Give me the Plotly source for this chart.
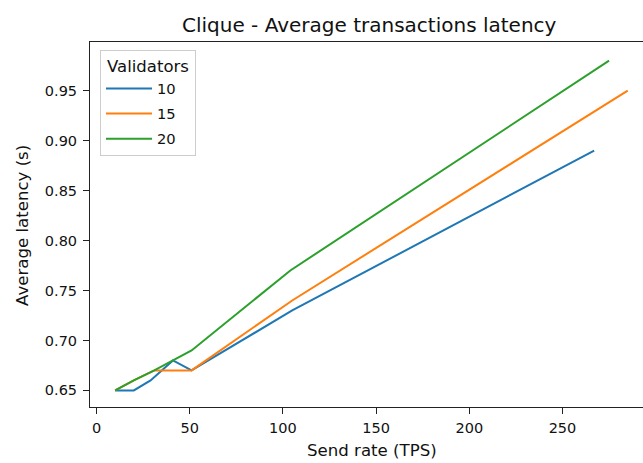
import plotly.graph_objects as go

# Send rate (TPS) and average latency (s) per validator count
rate_10 = [10, 20, 29, 41, 51, 105, 267]
lat_10 = [0.65, 0.65, 0.66, 0.68, 0.67, 0.73, 0.89]

rate_15 = [10, 20, 31, 41, 51, 105, 285]
lat_15 = [0.65, 0.66, 0.67, 0.67, 0.67, 0.74, 0.95]

rate_20 = [10, 20, 31, 41, 51, 104, 275]
lat_20 = [0.65, 0.66, 0.67, 0.68, 0.69, 0.77, 0.98]

series = [("10", rate_10, lat_10, "#1f77b4"),
          ("15", rate_15, lat_15, "#ff7f0e"),
          ("20", rate_20, lat_20, "#2ca02c")]

x_ticks = [0, 50, 100, 150, 200, 250]
y_ticks = [0.65, 0.70, 0.75, 0.80, 0.85, 0.90, 0.95]

FONT = "DejaVu Sans"
INK = "#111111"
PAD = "\u00a0\u00a0\u00a0"  # right padding inside the legend box

fig = go.Figure()
for name, xs, ys, color in series:
    fig.add_trace(go.Scatter(x=xs, y=ys, mode="lines", name=name + PAD,
                             legendgroup=name,
                             line=dict(color=color, width=2)))

W, H = 643, 463
L, R, T, B = 90, 0, 42, 56
PW, PH = W - L - R, H - T - B

fig.update_layout(
    width=W, height=H,
    margin=dict(l=L, r=R, t=T, b=B),
    plot_bgcolor="white", paper_bgcolor="white",
    font=dict(family=FONT, size=14.5, color=INK),
    showlegend=True,
    legend=dict(
        title=dict(text="Validators", side="top center",
                   font=dict(family=FONT, size=16.5, color=INK)),
        x=(100 - L) / PW, y=1 - (50 - T) / PH, xanchor="left", yanchor="top",
        bordercolor="#cccccc", borderwidth=1, bgcolor="rgba(255,255,255,0.8)",
        font=dict(family=FONT, size=14.7, color=INK),
        tracegroupgap=3, itemwidth=46,
    ),
    xaxis=dict(
        range=[-3.5, 293.2], tickvals=x_ticks,
        ticktext=[str(v) for v in x_ticks],
        showgrid=False, zeroline=False,
        showline=True, linecolor="#222222", linewidth=1, mirror=True,
        ticks="outside", ticklen=6, tickcolor="#222222",
        ticklabelstandoff=2,
        tickfont=dict(family=FONT, size=14.5, color=INK),
    ),
    yaxis=dict(
        range=[0.6334, 0.9986], tickvals=y_ticks,
        ticktext=[f"{v:.2f}" for v in y_ticks],
        showgrid=False, zeroline=False,
        showline=True, linecolor="#222222", linewidth=1, mirror=False,
        ticks="outside", ticklen=6, tickcolor="#222222",
        ticklabelstandoff=3,
        tickfont=dict(family=FONT, size=14.5, color=INK),
    ),
)

# Title and axis titles, centred on the full axes box
fig.add_annotation(text="Clique - Average transactions latency",
                   xref="paper", yref="paper", x=(369.5 - L) / PW, y=1 + (T - 25) / PH,
                   xanchor="center", yanchor="middle", showarrow=False,
                   font=dict(family=FONT, size=20, color=INK))
fig.add_annotation(text="Send rate (TPS)",
                   xref="paper", yref="paper", x=(371.5 - L) / PW, y=-(450 - (H - B)) / PH,
                   xanchor="center", yanchor="middle", showarrow=False,
                   font=dict(family=FONT, size=16.6, color=INK))
fig.add_annotation(text="Average latency (s)", textangle=-90,
                   xref="paper", yref="paper", x=-(L - 22) / PW, y=1 - (226 - T) / PH,
                   xanchor="center", yanchor="middle", showarrow=False,
                   font=dict(family=FONT, size=16.6, color=INK))

fig.write_html("out.html")
